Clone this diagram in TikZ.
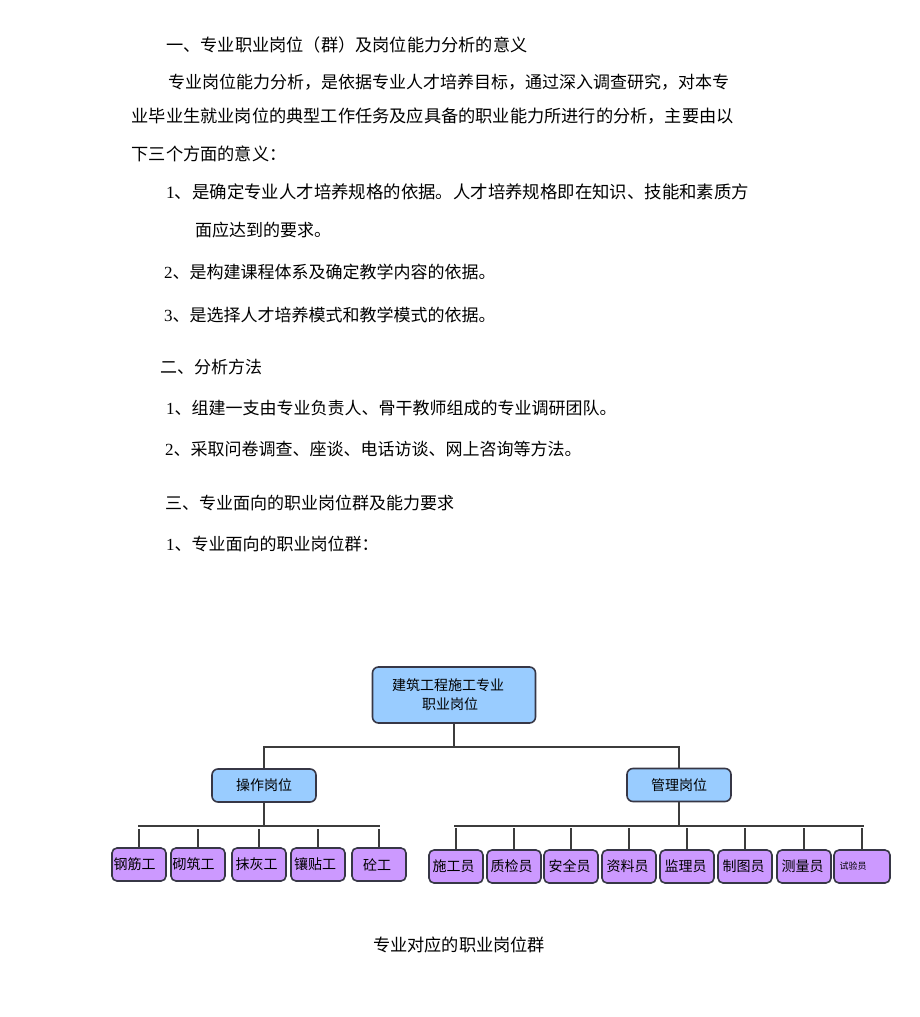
\documentclass[tikz,border=0pt]{standalone}
\usepackage{fontspec}
\setmainfont{Liberation Serif}
\newfontfamily\cjk{Noto Sans CJK SC}
\definecolor{boxblue}{RGB}{153,204,255}
\definecolor{boxpurple}{RGB}{204,153,255}
\definecolor{edgecol}{RGB}{55,55,70}
\definecolor{linecol}{RGB}{60,60,60}
\begin{document}
\begin{tikzpicture}[x=1pt,y=-1pt,
  txt/.style={anchor=west,inner sep=0pt,font=\cjk\fontsize{17.2}{17.2}\selectfont},
  captxt/.style={inner sep=0pt,font=\cjk\fontsize{17.2}{17.2}\selectfont},
  bluebox/.style={draw=edgecol,line width=1.6pt,fill=boxblue,rounded corners=6pt,
    inner sep=0pt,font=\cjk\fontsize{14}{18}\selectfont,align=center},
  purplebox/.style={draw=edgecol,line width=1.6pt,fill=boxpurple,rounded corners=5pt,
    inner sep=0pt,minimum width=54pt,minimum height=33pt,font=\cjk\fontsize{14}{14}\selectfont},
  conn/.style={draw=linecol,line width=1.9pt}
]
\useasboundingbox[fill=white] (0,0) rectangle (920,1017);

% ---- text ----
\node[txt] (h1) at (166,45) {一、专业职业岗位（群）及岗位能力分析的意义};
\node[txt,font=\cjk\fontsize{17}{17}\selectfont] (p1) at (168,82) {专业岗位能力分析，是依据专业人才培养目标，通过深入调查研究，对本专};
\node[txt] (p2) at (131.5,116) {业毕业生就业岗位的典型工作任务及应具备的职业能力所进行的分析，主要由以};
\node[txt] (p3) at (131.5,154) {下三个方面的意义：};
\node[txt,font=\cjk\fontsize{17.4}{17.4}\selectfont] (i1) at (166,192) {\textrm{1}、是确定专业人才培养规格的依据。人才培养规格即在知识、技能和素质方};
\node[txt,font=\cjk\fontsize{17}{17}\selectfont] (i1b) at (195,230) {面应达到的要求。};
\node[txt,font=\cjk\fontsize{17}{17}\selectfont] (i2) at (164,272) {\textrm{2}、是构建课程体系及确定教学内容的依据。};
\node[txt,font=\cjk\fontsize{17}{17}\selectfont] (i3) at (164,315) {\textrm{3}、是选择人才培养模式和教学模式的依据。};
\node[txt,font=\cjk\fontsize{17}{17}\selectfont] (h2) at (160,367) {二、分析方法};
\node[txt,font=\cjk\fontsize{17}{17}\selectfont] (m1) at (166,408) {\textrm{1}、组建一支由专业负责人、骨干教师组成的专业调研团队。};
\node[txt,font=\cjk\fontsize{17}{17}\selectfont] (m2) at (165,449) {\textrm{2}、采取问卷调查、座谈、电话访谈、网上咨询等方法。};
\node[txt,font=\cjk\fontsize{17}{17}\selectfont] (h3) at (165,503) {三、专业面向的职业岗位群及能力要求};
\node[txt,font=\cjk\fontsize{17}{17}\selectfont] (g1) at (166,544) {\textrm{1}、专业面向的职业岗位群：};
\node[captxt] (caption) at (459,945) {专业对应的职业岗位群};

% ---- chart boxes ----
\node[bluebox,minimum width=163pt,minimum height=56pt] (top) at (454,695) {建筑工程施工专业\hspace*{12pt}\\[1pt]职业岗位\hspace*{8pt}};
\node[bluebox,minimum width=104pt,minimum height=33pt] (op) at (264,785.5) {操作岗位};
\node[bluebox,minimum width=104pt,minimum height=33pt] (mg) at (679,785) {管理岗位};

\node[purplebox] (a1) at (139,864.5) {钢筋工\hspace*{9pt}};
\node[purplebox] (a2) at (198,864.5) {砌筑工\hspace*{9pt}};
\node[purplebox] (a3) at (259,864.5) {抹灰工\hspace*{5pt}};
\node[purplebox] (a4) at (318,864.5) {镶贴工\hspace*{6pt}};
\node[purplebox] (a5) at (379,864.5) {砼工\hspace*{4pt}};

\node[purplebox] (b1) at (456,866.5) {施工员\hspace*{5pt}};
\node[purplebox] (b2) at (514,866.5) {质检员\hspace*{5pt}};
\node[purplebox] (b3) at (571,866.5) {安全员\hspace*{3pt}};
\node[purplebox] (b4) at (629,866.5) {资料员\hspace*{3pt}};
\node[purplebox] (b5) at (687,866.5) {监理员\hspace*{3pt}};
\node[purplebox] (b6) at (745,866.5) {制图员\hspace*{3pt}};
\node[purplebox] (b7) at (804,866.5) {测量员\hspace*{3pt}};
\node[purplebox,minimum width=56pt,font=\cjk\fontsize{9}{9}\selectfont] (b8) at (862,866.5) {试验员\hspace*{18pt}};

% ---- bus coordinates ----
\coordinate (bus0) at (0,747);
\coordinate (busA) at (0,826);
\coordinate (busB) at (0,826);

% ---- connectors ----
\draw[conn] (top.south) -- (top.south |- bus0);
\draw[conn] ([yshift=-3pt]op.north |- bus0) -- (op.north |- bus0) -- (mg.north |- bus0) -- (mg.north);
\draw[conn] (op.north |- bus0) -- (op.north);

\draw[conn] (op.south) -- (op.south |- busA);
\draw[conn] ([xshift=-1pt]a1.north |- busA) -- ([xshift=1pt]a5.north |- busA);
\foreach \n in {a1,a2,a3,a4,a5}
  \draw[conn] ([yshift=-3pt]\n.north |- busA) -- (\n.north);

\draw[conn] (mg.south) -- (mg.south |- busB);
\draw[conn] ([xshift=-2pt]b1.north |- busB) -- ([xshift=2pt]b8.north |- busB);
\foreach \n in {b1,b2,b3,b4,b5,b6,b7,b8}
  \draw[conn] ([yshift=-2pt]\n.north |- busB) -- (\n.north);
\end{tikzpicture}
\end{document}
